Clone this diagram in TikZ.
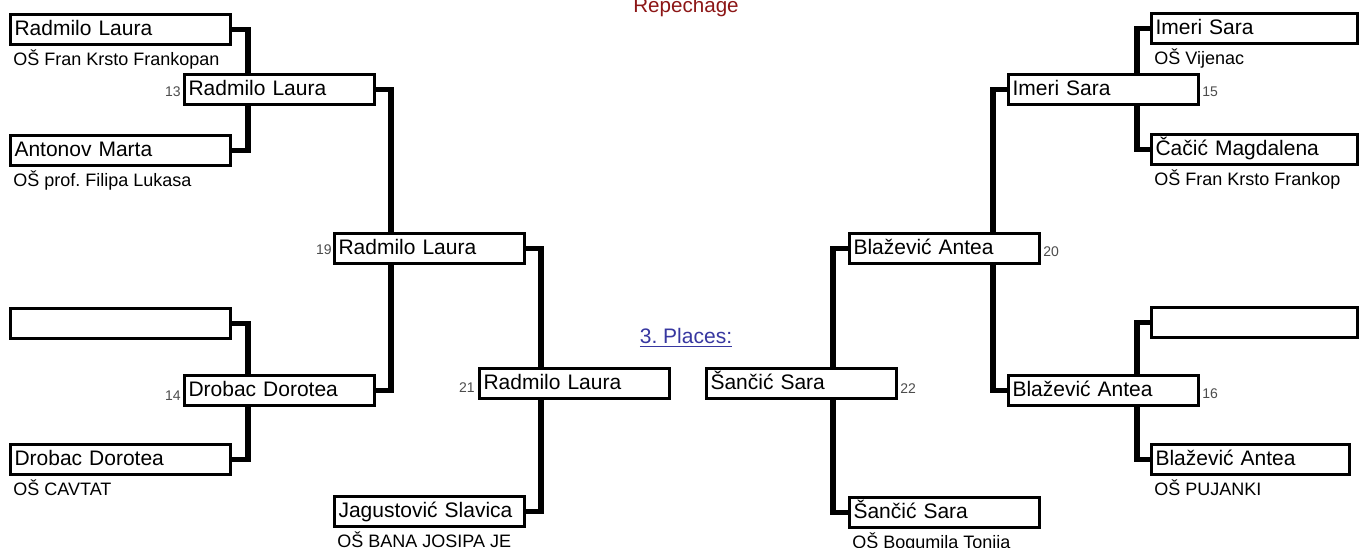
\documentclass[tikz,border=0pt]{standalone}
\usepackage{fontspec}
\setmainfont{Liberation Sans}
\usepackage{tikz}
\usetikzlibrary{positioning,backgrounds}
\frenchspacing

\definecolor{repred}{RGB}{140,22,22}
\definecolor{linkblue}{RGB}{55,55,160}

\begin{document}
\begin{tikzpicture}[x=0.5pt, y=-0.5pt,
  slot/.style={draw, line width=1.5pt, fill=white, anchor=north west, minimum height=15pt,
    inner xsep=2pt, inner ysep=0pt, text height=8pt, text depth=2.5pt, align=left,
    font=\fontsize{10.5}{12}\selectfont},
  first/.style={slot, text width=106pt},
  later/.style={slot, text width=91pt},
  school/.style={anchor=base west, inner sep=0pt, font=\fontsize{9}{11}\selectfont},
  num/.style={inner sep=0pt, text=black!70, font=\fontsize{7}{8}\selectfont},
  bracket/.style={line width=2.8pt}]
\useasboundingbox (0,0) rectangle (1364,547);

\node[anchor=base, inner sep=0pt, text=repred, font=\fontsize{10.3}{12}\selectfont] (title) at (686,12) {Repechage};
\node[anchor=base, inner sep=0pt, text=linkblue, font=\fontsize{10.5}{12}\selectfont] (places) at (686,343) {\underline{3. Places:}};

\node[first] (ra) at (9,13) {Radmilo Laura};
\node[school] (sa) at ([shift={(4,19)}]ra.south west) {OŠ Fran Krsto Frankopan};
\node[first] (rb) at (9,134) {Antonov Marta};
\node[school] (sb) at ([shift={(4,19)}]rb.south west) {OŠ prof. Filipa Lukasa};
\node[first] (rc) at (9,307) {};
\node[first] (rd) at (9,443) {Drobac Dorotea};
\node[school] (sd) at ([shift={(4,19)}]rd.south west) {OŠ CAVTAT};

\node[later] (m13) at (183,73) {Radmilo Laura};
\node[num, anchor=base east] (n13) at ([shift={(-2,7)}]m13.west) {13};
\node[later] (m14) at (183,374) {Drobac Dorotea};
\node[num, anchor=base east] (n14) at ([shift={(-2,10)}]m14.west) {14};
\node[later] (m19) at (333,232) {Radmilo Laura};
\node[num, anchor=base east] (n19) at ([shift={(-1,6)}]m19.west) {19};
\node[later] (m21) at (478,367) {Radmilo Laura};
\node[num, anchor=base east] (n21) at ([shift={(-3,9)}]m21.west) {21};
\node[later] (jag) at (333,495) {Jagustović Slavica};
\node[school] (sj) at ([shift={(4,19)}]jag.south west) {OŠ BANA JOSIPA JE};

\node[later] (m22) at (705,367) {Šančić Sara};
\node[num, anchor=base west] (n22) at ([shift={(2,10)}]m22.east) {22};
\node[later] (san) at (848,496) {Šančić Sara};
\node[school] (ss) at ([shift={(4,19)}]san.south west) {OŠ Bogumila Tonija};
\node[later] (m20) at (848,232) {Blažević Antea};
\node[num, anchor=base west] (n20) at ([shift={(2,8)}]m20.east) {20};
\node[later] (m15) at (1007,73) {Imeri Sara};
\node[num, anchor=base west] (n15) at ([shift={(2,7)}]m15.east) {15};
\node[later] (m16) at (1007,374) {Blažević Antea};
\node[num, anchor=base west] (n16) at ([shift={(2,8)}]m16.east) {16};

\node[first, text width=99pt] (re) at (1150,12) {Imeri Sara};
\node[school] (se) at ([shift={(4,19)}]re.south west) {OŠ Vijenac};
\node[first, text width=99pt] (rf) at (1150,133) {Čačić Magdalena};
\node[school] (sf) at ([shift={(4,19)}]rf.south west) {OŠ Fran Krsto Frankop};
\node[first, text width=99pt] (rg) at (1150,306) {};
\node[first, text width=95pt] (rh) at (1150,443) {Blažević Antea};
\node[school] (sh) at ([shift={(4,19)}]rh.south west) {OŠ PUJANKI};

\begin{pgfonlayer}{background}
\draw[bracket] (ra.east) -- ++(16,0) |- (rb.east);
\draw[bracket] (rc.east) -- ++(16,0) |- (rd.east);
\draw[bracket] (m13.east) -- ++(15,0) |- (m14.east);
\draw[bracket] (m19.east) -- ++(15,0) |- (jag.east);
\draw[bracket] (re.west) -- ++(-13,0) |- (rf.west);
\draw[bracket] (rg.west) -- ++(-13,0) |- (rh.west);
\draw[bracket] (m15.west) -- ++(-14,0) |- (m16.west);
\draw[bracket] (m20.west) -- ++(-15,0) |- (san.west);
\end{pgfonlayer}
\end{tikzpicture}
\end{document}
